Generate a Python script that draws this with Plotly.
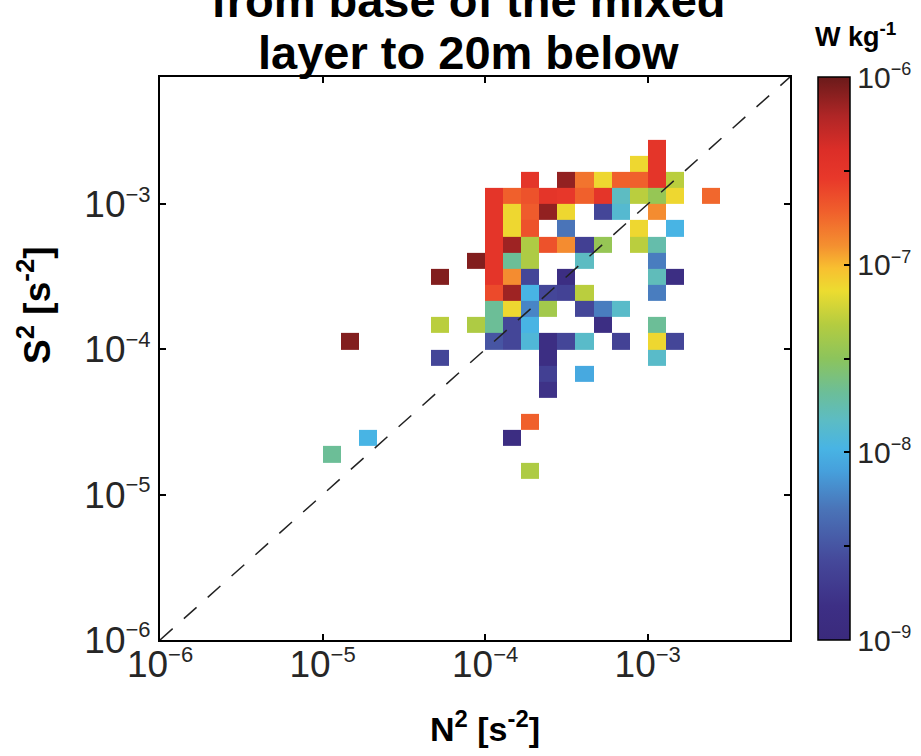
import numpy as np
import plotly.graph_objects as go

# ---- binning: 9 bins per decade in both N^2 and S^2, starting at 1e-6 ----
bins_per_decade = 9
edge_exponents = np.arange(-6 * bins_per_decade, -2 * bins_per_decade + 1) / bins_per_decade
bin_edges = 10.0 ** edge_exponents
n_bins = len(bin_edges) - 1

# ---- occupied bins: N^2 bin index, S^2 bin index, bin-mean dissipation [W/kg] ----
n2_bin = [
    27,
    26, 27,
    20, 22, 23, 24, 25, 26, 27, 28,
    18, 19, 20, 21, 22, 23, 24, 25, 26, 27, 28, 30,
    18, 19, 20, 21, 22, 24, 25, 27,
    18, 19, 20, 22, 26, 28,
    18, 19, 20, 21, 22, 23, 24, 26, 27,
    17, 18, 19, 20, 23, 27,
    15, 18, 19, 20, 22, 27, 28,
    18, 19, 20, 21, 22, 23, 27,
    18, 19, 20, 21, 23, 24, 25,
    15, 17, 18, 19, 20, 24, 27,
    10, 18, 19, 20, 21, 22, 23, 25, 27, 28,
    15, 21, 27,
    21, 23,
    21,
    20,
    11, 19,
    9,
    20,
]
s2_bin = [
    30,
    29, 29,
    28, 28, 28, 28, 28, 28, 28, 28,
    27, 27, 27, 27, 27, 27, 27, 27, 27, 27, 27, 27,
    26, 26, 26, 26, 26, 26, 26, 26,
    25, 25, 25, 25, 25, 25,
    24, 24, 24, 24, 24, 24, 24, 24, 24,
    23, 23, 23, 23, 23, 23,
    22, 22, 22, 22, 22, 22, 22,
    21, 21, 21, 21, 21, 21, 21,
    20, 20, 20, 20, 20, 20, 20,
    19, 19, 19, 19, 19, 19, 19,
    18, 18, 18, 18, 18, 18, 18, 18, 18, 18,
    17, 17, 17,
    16, 16,
    15,
    13,
    12, 12,
    11,
    10,
]
eps = [
    3.2e-7,
    7.6e-8, 3.2e-7,
    3.2e-7, 7.6e-7, 1.6e-7, 7.6e-8, 1.9e-7, 1.9e-7, 3.2e-7, 5.0e-8,
    3.2e-7, 1.9e-7, 2.2e-7, 3.2e-7, 3.0e-7, 1.9e-7, 3.2e-7, 1.5e-8, 5.0e-8, 3.5e-8, 7.6e-8, 1.8e-7,
    3.2e-7, 7.6e-8, 2.0e-7, 7.6e-7, 7.6e-8, 2.5e-9, 1.3e-8, 1.3e-7,
    3.2e-7, 7.6e-8, 2.2e-7, 5.0e-9, 7.6e-8, 1.05e-8,
    3.2e-7, 7.0e-7, 4.5e-8, 2.2e-7, 1.3e-7, 2.2e-9, 3.5e-8, 5.0e-8, 1.8e-8,
    8.5e-7, 3.2e-7, 2.1e-8, 4.5e-8, 1.5e-8, 5.5e-9,
    8.5e-7, 3.2e-7, 1.3e-7, 2.5e-9, 1.4e-9, 1.6e-8, 1.4e-9,
    2.4e-7, 7.0e-7, 1.05e-8, 2.5e-9, 2.3e-9, 5.0e-8, 5.5e-9,
    2.1e-8, 7.6e-8, 6.0e-9, 4.0e-8, 2.5e-9, 5.5e-9, 1.4e-8,
    5.0e-8, 4.5e-8, 2.1e-8, 2.5e-9, 1.05e-8, 1.4e-9, 2.1e-8,
    8.5e-7, 3.2e-9, 2.5e-9, 1.2e-8, 1.4e-9, 2.5e-9, 1.4e-8, 2.3e-9, 7.6e-8, 2.5e-9,
    2.5e-9, 1.4e-9, 1.4e-8,
    2.2e-9, 9.0e-9,
    1.6e-9,
    1.9e-7,
    1.05e-8, 1.3e-9,
    2.1e-8,
    4.5e-8,
]

# colour axis: log10 of dissipation, 1e-9 .. 1e-6
cbar_min, cbar_max = -9, -6
cbar_exponents = [-9, -8, -7, -6]
cbar_minor = [-8.5, -7.5, -6.5]

z = [[None] * n_bins for _ in range(n_bins)]
for k, m, e in zip(n2_bin, s2_bin, eps):
    z[m][k] = float(np.log10(e))

colorscale = [
    [0.000, "#3a2a7c"],
    [0.060, "#3d2f85"],
    [0.140, "#45489a"],
    [0.233, "#4a74b8"],
    [0.300, "#46a0dc"],
    [0.340, "#48b4e4"],
    [0.390, "#5cbcc4"],
    [0.440, "#6cbe98"],
    [0.500, "#8cc45c"],
    [0.560, "#b4cc40"],
    [0.620, "#ecdc30"],
    [0.660, "#f8c030"],
    [0.700, "#f49030"],
    [0.760, "#f0602c"],
    [0.820, "#e8382a"],
    [0.870, "#dc2e28"],
    [0.930, "#b02626"],
    [1.000, "#6a1a1a"],
]

FONT = "Liberation Sans, Arial, Helvetica, sans-serif"
TICK_COLOR = "#262626"

# plot-area / colorbar geometry in pixels
PLOT_L, PLOT_W = 160, 630
CBAR_LEFT, CBAR_THICK = 818, 32


def power_label(exp, sup_px):
    return f'10<sup><span style="font-size:{sup_px}px">\u2212{abs(exp)}</span></sup>'


axis_exponents = [-6, -5, -4, -3]
axis_tickvals = [10.0 ** e for e in axis_exponents]
axis_ticktext = [power_label(e, 22) for e in axis_exponents]

cb_vals = sorted(cbar_exponents + cbar_minor)
cb_text = [power_label(int(v), 18) if float(v).is_integer() else "" for v in cb_vals]

fig = go.Figure()

fig.add_trace(go.Heatmap(
    x=bin_edges,
    y=bin_edges,
    z=z,
    zmin=cbar_min,
    zmax=cbar_max,
    colorscale=colorscale,
    hoverongaps=False,
    colorbar=dict(
        x=(CBAR_LEFT - PLOT_L) / PLOT_W,
        xanchor="left",
        xpad=0,
        y=0.5,
        yanchor="middle",
        ypad=0,
        len=1.0,
        lenmode="fraction",
        thickness=CBAR_THICK,
        outlinewidth=1.5,
        outlinecolor="black",
        ticks="inside",
        ticklen=6,
        tickwidth=1.5,
        tickcolor="black",
        tickvals=cb_vals,
        ticktext=cb_text,
        tickfont=dict(family=FONT, size=30, color=TICK_COLOR),
    ),
))

# 1:1 line, Ri = 1
fig.add_trace(go.Scatter(
    x=[1e-6, 1e-2],
    y=[1e-6, 1e-2],
    mode="lines",
    line=dict(color="#222222", width=1.5, dash="17px,15px"),
    hoverinfo="skip",
    showlegend=False,
))

# tick marks on the left edge of the colour bar as well
cb_x0 = (CBAR_LEFT - PLOT_L) / PLOT_W
cb_x1 = (CBAR_LEFT + 6 - PLOT_L) / PLOT_W
left_ticks = [
    dict(type="line", xref="paper", yref="paper",
         x0=cb_x0, x1=cb_x1,
         y0=(v - cbar_min) / (cbar_max - cbar_min),
         y1=(v - cbar_min) / (cbar_max - cbar_min),
         line=dict(color="black", width=1.5))
    for v in cb_vals[1:-1]
]

axis_common = dict(
    type="log",
    range=[-6, -2.125],
    showline=True,
    linecolor="black",
    linewidth=2,
    mirror="allticks",
    ticks="inside",
    ticklen=6,
    tickwidth=1.5,
    tickcolor="black",
    tickvals=axis_tickvals,
    ticktext=axis_ticktext,
    tickfont=dict(family=FONT, size=37, color=TICK_COLOR),
    showgrid=False,
    zeroline=False,
)

fig.update_layout(
    width=921,
    height=756,
    margin=dict(l=PLOT_L, r=921 - PLOT_L - PLOT_W, t=77, b=116, autoexpand=False),
    paper_bgcolor="white",
    plot_bgcolor="white",
    showlegend=False,
    xaxis=dict(axis_common, ticklabelstandoff=-9),
    yaxis=axis_common,
    shapes=left_ticks,
    annotations=[
        dict(text="<b>from base of the mixed</b>", x=0.489, y=1.135,
             xref="paper", yref="paper", xanchor="center", yanchor="middle",
             showarrow=False, font=dict(family=FONT, size=47, color="black")),
        dict(text="<b>layer to 20m below</b>", x=0.489, y=1.0444,
             xref="paper", yref="paper", xanchor="center", yanchor="middle",
             showarrow=False, font=dict(family=FONT, size=47, color="black")),
        dict(text="<b>W kg<sup>-1</sup></b>", x=(855 - PLOT_L) / PLOT_W, y=1.0745,
             xref="paper", yref="paper", xanchor="center", yanchor="middle",
             showarrow=False, font=dict(family=FONT, size=27, color="black")),
        dict(text="<b>N<sup>2</sup> [s<sup>-2</sup>]</b>", x=0.516, y=-0.1545,
             xref="paper", yref="paper", xanchor="center", yanchor="middle",
             showarrow=False, font=dict(family=FONT, size=34, color="black")),
        dict(text="<b>S<sup>2</sup> [s<sup>-2</sup>]</b>", x=-0.2, y=0.595,
             xref="paper", yref="paper", xanchor="center", yanchor="middle",
             textangle=-90, showarrow=False,
             font=dict(family=FONT, size=37, color="black")),
    ],
)

fig.write_html("out.html")
